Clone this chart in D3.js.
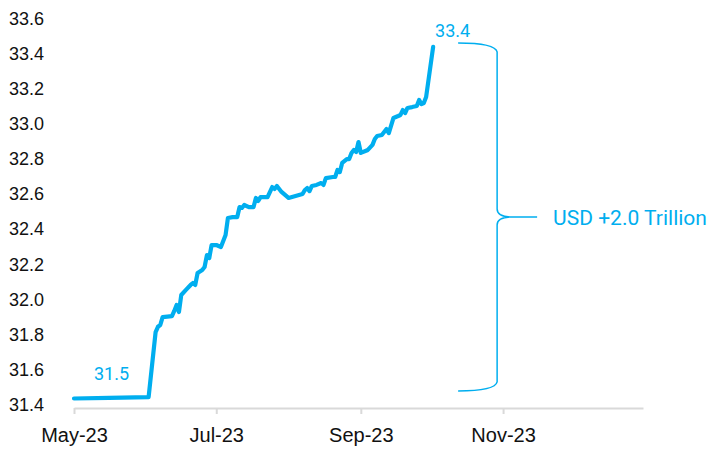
<!DOCTYPE html>
<html>
<head>
<meta charset="utf-8">
<script src="https://cdn.jsdelivr.net/npm/d3@7"></script>
<style>
  body { margin: 0; background: #fff; }
  svg { display: block; font-family: Roboto, "Noto Sans", sans-serif; }
</style>
</head>
<body>
<svg id="chart" width="710" height="449"></svg>
<script>
// US federal debt, USD trillion
const dates = [
  "2023-05-01", "2023-05-16", "2023-06-02", "2023-06-05", "2023-06-06", "2023-06-07", "2023-06-08",
  "2023-06-12", "2023-06-13", "2023-06-14", "2023-06-15", "2023-06-16", "2023-06-18", "2023-06-20",
  "2023-06-21", "2023-06-22", "2023-06-23", "2023-06-25", "2023-06-26", "2023-06-27", "2023-06-28",
  "2023-06-29", "2023-07-01", "2023-07-03", "2023-07-05", "2023-07-06", "2023-07-08", "2023-07-10",
  "2023-07-11", "2023-07-12", "2023-07-13", "2023-07-15", "2023-07-17", "2023-07-18", "2023-07-19",
  "2023-07-20", "2023-07-23", "2023-07-25", "2023-07-26", "2023-07-27", "2023-07-29", "2023-08-01",
  "2023-08-04", "2023-08-07", "2023-08-08", "2023-08-09", "2023-08-10", "2023-08-11", "2023-08-13",
  "2023-08-15", "2023-08-16", "2023-08-17", "2023-08-20", "2023-08-21", "2023-08-22", "2023-08-23",
  "2023-08-24", "2023-08-26", "2023-08-27", "2023-08-28", "2023-08-29", "2023-08-30", "2023-08-31",
  "2023-09-01", "2023-09-04", "2023-09-06", "2023-09-07", "2023-09-08", "2023-09-10", "2023-09-12",
  "2023-09-13", "2023-09-15", "2023-09-17", "2023-09-18", "2023-09-19", "2023-09-20", "2023-09-21",
  "2023-09-23", "2023-09-25", "2023-09-26", "2023-09-27", "2023-09-28", "2023-09-29", "2023-10-02"
];
const debt = [
  31.437, 31.440, 31.445, 31.815, 31.845, 31.855, 31.900,
  31.906, 31.935, 31.969, 31.929, 32.026, 32.055, 32.083,
  32.094, 32.083, 32.151, 32.168, 32.185, 32.253, 32.236,
  32.310, 32.310, 32.299, 32.367, 32.464, 32.469, 32.469,
  32.526, 32.521, 32.538, 32.526, 32.526, 32.578, 32.561,
  32.583, 32.583, 32.640, 32.629, 32.646, 32.612, 32.578,
  32.589, 32.600, 32.623, 32.634, 32.617, 32.646, 32.652,
  32.663, 32.652, 32.691, 32.697, 32.697, 32.737, 32.725,
  32.777, 32.799, 32.799, 32.834, 32.851, 32.839, 32.896,
  32.834, 32.851, 32.880, 32.913, 32.930, 32.936, 32.970,
  32.947, 33.033, 33.044, 33.050, 33.078, 33.061, 33.090,
  33.095, 33.101, 33.135, 33.112, 33.118, 33.152, 33.437
];

const yTicks = [31.4, 31.6, 31.8, 32.0, 32.2, 32.4, 32.6, 32.8, 33.0, 33.2, 33.4, 33.6];
const xTicks = ["2023-05-01", "2023-07-01", "2023-09-01", "2023-11-01"];
const endLabels = ["31.5", "33.4"];
const braceText = "USD +2.0 Trillion";
const braceRange = [31.48, 33.46]; // bottom / top of the brace, in USD trillion

const blue = "#00aeef";
const parse = d3.timeParse("%Y-%m-%d");
const data = dates.map((d, i) => ({ date: parse(d), value: debt[i] }));

const svg = d3.select("#chart");

const x = d3.scaleTime()
  .domain([parse("2023-05-01"), parse("2023-12-31")])
  .range([74, 643]);

const y = d3.scaleLinear()
  .domain([31.4, 33.6])
  .range([405, 18.3]);

// y labels only, no axis line
const yAxis = svg.append("g")
  .attr("transform", "translate(44,0)")
  .call(d3.axisLeft(y).tickValues(yTicks).tickFormat(d3.format(".1f")).tickSize(0).tickPadding(0));
yAxis.select(".domain").remove();
yAxis.selectAll("text").attr("font-size", 18).attr("fill", "#111").attr("font-family", null);

// x axis
const xAxis = svg.append("g")
  .attr("transform", "translate(0,408)")
  .call(d3.axisBottom(x)
    .tickValues(xTicks.map(parse))
    .tickFormat(d3.timeFormat("%b-%y"))
    .tickSize(6)
    .tickSizeOuter(0)
    .tickPadding(14));
xAxis.select(".domain").attr("stroke", "#d9d9d9").attr("stroke-width", 2);
xAxis.selectAll(".tick line").attr("stroke", "#d9d9d9").attr("stroke-width", 2);
xAxis.selectAll("text").attr("font-size", 20).attr("fill", "#111").attr("font-family", null);

// the debt line
svg.append("path")
  .datum(data)
  .attr("fill", "none")
  .attr("stroke", blue)
  .attr("stroke-width", 4.2)
  .attr("stroke-linejoin", "round")
  .attr("stroke-linecap", "round")
  .attr("d", d3.line().x(d => x(d.date)).y(d => y(d.value)));

// start / end value labels
const first = data[0], last = data[data.length - 1];
svg.append("text")
  .attr("x", x(first.date) + 20).attr("y", y(first.value) - 25)
  .attr("dy", "0.35em")
  .attr("font-size", 18).attr("fill", blue)
  .text(endLabels[0]);
svg.append("text")
  .attr("x", x(last.date) + 2).attr("y", y(last.value) - 16)
  .attr("dy", "0.35em")
  .attr("font-size", 18).attr("fill", blue)
  .text(endLabels[1]);

// curly brace showing the increase
const bx0 = x(last.date) + 25, bx = x(last.date) + 64, tipX = x(last.date) + 104;
const braceTop = y(braceRange[1]), braceBot = y(braceRange[0]), mid = (braceTop + braceBot) / 2;
const brace = d3.path();
brace.moveTo(bx0, braceTop);
brace.quadraticCurveTo(bx - 2, braceTop, bx, braceTop + 9);
brace.lineTo(bx, mid - 8);
brace.bezierCurveTo(bx, mid - 2, bx + 6, mid, bx + 15, mid);
brace.lineTo(tipX, mid);
brace.moveTo(bx + 15, mid);
brace.bezierCurveTo(bx + 6, mid, bx, mid + 2, bx, mid + 8);
brace.lineTo(bx, braceBot - 9);
brace.quadraticCurveTo(bx - 2, braceBot, bx0, braceBot);

svg.append("path")
  .attr("d", brace.toString())
  .attr("fill", "none")
  .attr("stroke", blue)
  .attr("stroke-width", 1.5);

svg.append("text")
  .attr("x", tipX + 16).attr("y", mid + 1)
  .attr("dy", "0.35em")
  .attr("font-size", 21).attr("fill", blue)
  .text(braceText);
</script>
</body>
</html>
